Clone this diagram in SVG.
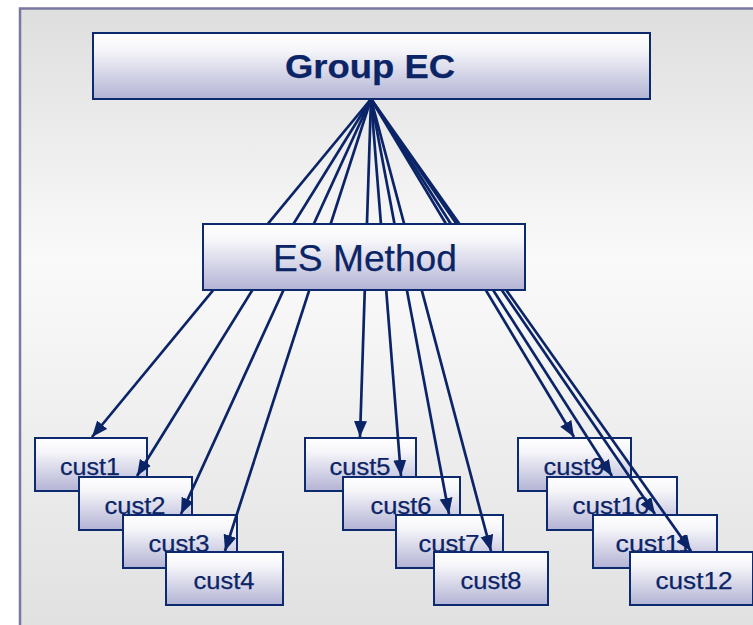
<svg xmlns="http://www.w3.org/2000/svg" width="753" height="625" viewBox="0 0 753 625">
<defs>
<linearGradient id="bg" x1="0" y1="0" x2="0" y2="1">
<stop offset="0" stop-color="#dedede"/>
<stop offset="0.4" stop-color="#fafafa"/>
<stop offset="1" stop-color="#e0e0e0"/>
</linearGradient>
<linearGradient id="box" x1="0" y1="0" x2="0" y2="1">
<stop offset="0" stop-color="#ffffff"/>
<stop offset="0.25" stop-color="#f6f6fa"/>
<stop offset="1" stop-color="#b3b3d5"/>
</linearGradient>
<marker id="ah" markerUnits="userSpaceOnUse" markerWidth="18" markerHeight="14" refX="16" refY="6.5" orient="auto">
<path d="M0,0 L16,6.5 L0,13 Z" fill="#0b2468"/>
</marker>
<style>
.b{fill:url(#box);stroke:#0d2a6e;stroke-width:2}
.t{font-family:"Liberation Sans",Arial,sans-serif;fill:#0b2466;text-anchor:middle;stroke:#0b2466;stroke-width:0.25}
.c{font-size:24px}
#connectors line{stroke:#0b2468;stroke-width:2.7;marker-end:url(#ah)}
</style>
</defs>
<rect x="0" y="0" width="753" height="625" fill="#ffffff"/>
<rect x="20" y="8.5" width="745" height="630" fill="url(#bg)" stroke="#7878a0" stroke-width="2.5"/>

<g id="cust1"><rect class="b" x="35" y="438" width="112" height="53"/><text class="t c" x="90" y="475" textLength="60" lengthAdjust="spacingAndGlyphs">cust1</text></g>
<g id="cust2"><rect class="b" x="79" y="477" width="113" height="53"/><text class="t c" x="135" y="514" textLength="61" lengthAdjust="spacingAndGlyphs">cust2</text></g>
<g id="cust3"><rect class="b" x="123" y="515" width="114" height="53"/><text class="t c" x="179" y="552" textLength="61" lengthAdjust="spacingAndGlyphs">cust3</text></g>
<g id="cust4"><rect class="b" x="166" y="552" width="117" height="53"/><text class="t c" x="224" y="589" textLength="61" lengthAdjust="spacingAndGlyphs">cust4</text></g>
<g id="cust5"><rect class="b" x="305" y="438" width="111" height="53"/><text class="t c" x="360" y="475" textLength="61" lengthAdjust="spacingAndGlyphs">cust5</text></g>
<g id="cust6"><rect class="b" x="343" y="477" width="117" height="53"/><text class="t c" x="401" y="514" textLength="61" lengthAdjust="spacingAndGlyphs">cust6</text></g>
<g id="cust7"><rect class="b" x="396" y="515" width="107" height="53"/><text class="t c" x="449" y="552" textLength="61" lengthAdjust="spacingAndGlyphs">cust7</text></g>
<g id="cust8"><rect class="b" x="434" y="552" width="114" height="53"/><text class="t c" x="491" y="589" textLength="61" lengthAdjust="spacingAndGlyphs">cust8</text></g>
<g id="cust9"><rect class="b" x="518" y="438" width="113" height="53"/><text class="t c" x="574" y="475" textLength="61" lengthAdjust="spacingAndGlyphs">cust9</text></g>
<g id="cust10"><rect class="b" x="547" y="477" width="130" height="53"/><text class="t c" x="611" y="514" textLength="77" lengthAdjust="spacingAndGlyphs">cust10</text></g>
<g id="cust11"><rect class="b" x="593" y="515" width="124" height="53"/><text class="t c" x="654" y="552" textLength="77" lengthAdjust="spacingAndGlyphs">cust11</text></g>
<g id="cust12"><rect class="b" x="630" y="552" width="123" height="53"/><text class="t c" x="694" y="589" textLength="77" lengthAdjust="spacingAndGlyphs">cust12</text></g>

<g id="connectors">
<line x1="371" y1="99" x2="92" y2="437"/>
<line x1="371" y1="99" x2="137" y2="476"/>
<line x1="371" y1="99" x2="181" y2="514"/>
<line x1="371" y1="99" x2="225" y2="551"/>
<line x1="371" y1="99" x2="360" y2="437"/>
<line x1="371" y1="99" x2="401" y2="476"/>
<line x1="371" y1="99" x2="449" y2="514"/>
<line x1="371" y1="99" x2="491" y2="551"/>
<line x1="371" y1="99" x2="574" y2="437"/>
<line x1="371" y1="99" x2="612" y2="476"/>
<line x1="371" y1="99" x2="655" y2="514"/>
<line x1="371" y1="99" x2="691" y2="551"/>
</g>

<g id="es-method"><rect class="b" x="203" y="224" width="322" height="66"/><text class="t" x="365" y="271" font-size="36" textLength="184" lengthAdjust="spacingAndGlyphs">ES Method</text></g>
<g id="group-ec"><rect class="b" x="93" y="33" width="557" height="66"/><text class="t" x="370" y="78" font-size="34" font-weight="bold" textLength="170" lengthAdjust="spacingAndGlyphs">Group EC</text></g>
</svg>
